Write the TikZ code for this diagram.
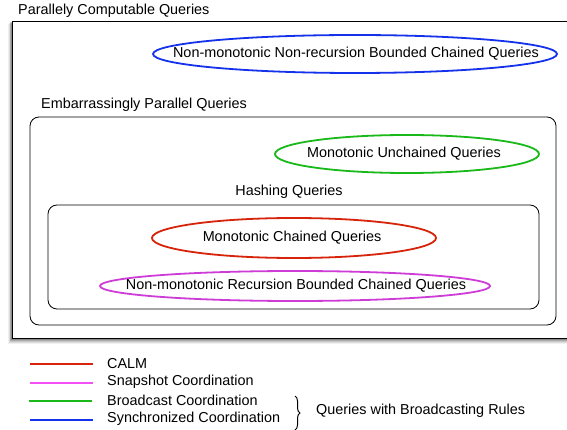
\documentclass[tikz,border=0pt]{standalone}
\usepackage{fontspec}
\setmainfont{Liberation Sans}
\usetikzlibrary{decorations.pathreplacing}
\definecolor{cred}{RGB}{215,35,10}
\definecolor{cmag}{RGB}{205,60,215}
\definecolor{cmagl}{RGB}{245,80,245}
\definecolor{cgreen}{RGB}{25,185,25}
\definecolor{cblue}{RGB}{20,50,235}
\tikzset{
  lbl/.style={font=\fontsize{14.4}{16}\selectfont, inner sep=0pt},
  ell/.style={line width=1.8pt},
  box/.style={draw=black, line width=0.8pt, rounded corners=9pt},
  legline/.style={line width=1.8pt},
}
\begin{document}
\begin{tikzpicture}[x=1pt,y=-1pt]
\useasboundingbox (0,0) rectangle (567,430);
% shadow of outer box
\foreach \o/\op in {6/0.06,5/0.08,4/0.1,3/0.14,2/0.18}{
  \fill[black,opacity=\op] (12-\o*0.6,21+\o*0.5) rectangle (575,338+\o);
}
\fill[white] (12,21) rectangle (575,338);
\draw[black,line width=0.9pt] (12,21) rectangle (575,338);
\node[lbl,anchor=west] (t1) at (18,11) {Parallely Computable Queries};
% blue ellipse
\draw[cblue,ell] (355,54) ellipse [x radius=202, y radius=19];
\node[lbl] (nb) at (356,54) {Non-monotonic Non-recursion Bounded Chained Queries};
% box 2
\node[lbl,anchor=west] (t2) at (41,105) {Embarrassingly Parallel Queries};
\draw[box] (30,117) rectangle (556,325);
\draw[cgreen,ell] (407,154) ellipse [x radius=132, y radius=19];
\node[lbl] (ng) at (404,154) {Monotonic Unchained Queries};
% box 3
\node[lbl] (t3) at (289,192) {Hashing Queries};
\draw[box] (48,205) rectangle (539,309);
\draw[cred,ell] (294,238) ellipse [x radius=142, y radius=20];
\node[lbl] (nr) at (292,238) {Monotonic Chained Queries};
\draw[cmag,ell] (295,286) ellipse [x radius=195, y radius=15];
\node[lbl] (nm) at (296,286) {Non-monotonic Recursion Bounded Chained Queries};
% legend
\draw[cred,legline] (30,364) -- (93,364);
\draw[cmagl,legline] (30,383) -- (93,383);
\draw[cgreen,legline] (29,401) -- (92,401);
\draw[cblue,legline] (30,420) -- (93,420);
\node[lbl,anchor=west] (l1) at (107,364) {CALM};
\node[lbl,anchor=west] (l2) at (107,382) {Snapshot Coordination};
\node[lbl,anchor=west] (l3) at (107,400) {Broadcast Coordination};
\node[lbl,anchor=west] (l4) at (107,419) {Synchronized Coordination};
\draw[line width=1pt,decorate,decoration={brace,amplitude=5pt}] (295,396) -- (295,430);
\node[lbl,anchor=west] (lb) at (316,411) {Queries with Broadcasting Rules};
\end{tikzpicture}
\end{document}
